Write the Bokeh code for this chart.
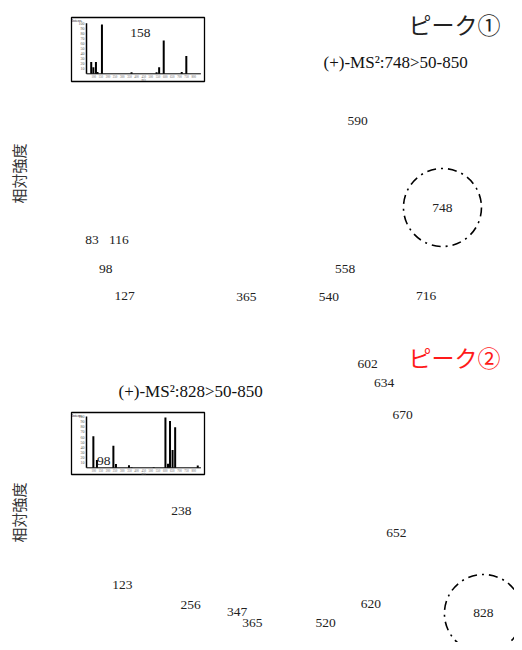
import math
from bokeh.plotting import figure
from bokeh.models import Range1d, ColumnDataSource
from bokeh.layouts import column
from bokeh.embed import file_html
from bokeh.resources import INLINE
from bokeh.core.properties import value

# ---------------- data ----------------
mz1 = [83, 98, 116, 127, 158, 365, 540, 558, 590, 716, 748]
int1 = [23.5, 13, 23.5, 3.5, 97.5, 3, 3, 13, 66, 3.5, 35]
precursor1 = 748
title1 = "ピーク①"
cond1 = "(+)-MS²:748>50-850"

mz2 = [98, 123, 238, 256, 347, 365, 520, 602, 620, 634, 652, 670, 828]
int2 = [61.5, 15, 43, 7.5, 5, 1, 1, 98, 8, 91, 34.5, 79, 4.5]
precursor2 = 828
title2 = "ピーク②"
cond2 = "(+)-MS²:828>50-850"

ylabel = "相対強度"
mz_lo, mz_hi = 50, 850
inset_yticks = [10, 20, 30, 40, 50, 60, 70, 80, 90, 100]
inset_xticks = [100, 150, 200, 250, 300, 350, 400, 450, 500, 550, 600, 650, 700, 750, 800]

# label nudges (screen px) to avoid overlaps, as in the original
nudge1 = {83: -10, 98: -4, 540: -7, 590: -4}
nudge2 = {98: -6, 365: 6, 620: -6, 652: 3}

# ---------------- layout ----------------
W = 514
SERIF = value("Liberation Serif")
CJK = value("Noto Sans CJK JP")


def xr(p0, slope, size):
    return Range1d(-p0 / slope, (size - p0) / slope)


def yr(p0, k, size):
    return Range1d((p0 - size) / k, p0 / k)


def panel(H, mz, inten, nudge, prec, title, title_color, title_py, cond, cond_px, cond_py,
          y0, k, iy0, ik, box_top, box_bot, ylab_py):
    mx0, mk = 59.0, 0.512          # main x mapping: px = mx0 + mk*mz
    ix0, ik_x = 78.85, 0.143       # inset x mapping
    p = figure(width=W, height=H, output_backend="svg", toolbar_location=None,
               x_axis_location=None, y_axis_location=None, min_border=0,
               x_range=xr(mx0, mk, W), y_range=yr(y0, k, H))
    p.outline_line_color = None
    p.grid.visible = False
    p.extra_x_ranges = {"ins": xr(ix0, ik_x, W)}
    p.extra_y_ranges = {"ins": yr(iy0, ik, H)}

    def px2x(px):
        return (px - mx0) / mk

    def py2y(py):
        return (y0 - py) / k

    def ipx2x(px):
        return (px - ix0) / ik_x

    def ipy2y(py):
        return (iy0 - py) / ik

    src = ColumnDataSource(dict(x=mz, y=inten, t=[str(m) for m in mz],
                                dx=[nudge.get(m, 0) for m in mz]))

    # inset box
    p.quad(left=[ipx2x(71)], right=[ipx2x(204)], bottom=[ipy2y(box_bot)], top=[ipy2y(box_top)],
           fill_color="white", line_color="black", line_width=1.3,
           x_range_name="ins", y_range_name="ins")
    # inset axes
    p.segment(x0=[mz_lo], y0=[0], x1=[mz_lo], y1=[100], line_color="black", line_width=1.5,
              x_range_name="ins", y_range_name="ins")
    p.segment(x0=[mz_lo], y0=[0], x1=[mz_hi], y1=[0], line_color="black", line_width=1,
              x_range_name="ins", y_range_name="ins")
    p.text(x=[mz_lo] * len(inset_yticks), y=inset_yticks, text=[str(v) for v in inset_yticks],
           x_offset=-2, text_align="right", text_baseline="middle", text_font_size="4px",
           text_color="#555", text_font=SERIF, x_range_name="ins", y_range_name="ins")
    p.text(x=[mz_lo], y=[ipy2y(box_top + 3)], text=["Intens."], x_offset=-4,
           text_align="right", text_baseline="middle", text_font_size="4px",
           text_color="#222", text_font=SERIF, x_range_name="ins", y_range_name="ins")
    p.text(x=inset_xticks, y=[0] * len(inset_xticks), text=[str(v) for v in inset_xticks],
           y_offset=1, text_align="center", text_baseline="top", text_font_size="3px",
           text_color="#666", text_font=SERIF, x_range_name="ins", y_range_name="ins")
    p.text(x=[450], y=[0], text=["m/z"], y_offset=4, text_align="center", text_baseline="top",
           text_font_size="3px", text_color="#666", text_font=SERIF,
           x_range_name="ins", y_range_name="ins")
    # inset bars
    p.segment(x0="x", y0=0, x1="x", y1="y", source=src, line_color="black", line_width=2,
              x_range_name="ins", y_range_name="ins")

    # peak labels
    p.text(x="x", y="y", text="t", source=src, x_offset="dx", text_align="center",
           text_baseline="middle", text_font_size="13.5px", text_color="#222", text_font=SERIF)

    # precursor circle
    pi = inten[mz.index(prec)]
    p.scatter(x=[prec], y=[pi], size=78, marker="circle", fill_color=None, line_color="black",
              line_width=1.6, line_dash="9 5 2 5")

    # title, condition, y label
    p.text(x=[px2x(500)], y=[py2y(title_py)], text=[title], text_align="right",
           text_baseline="middle", text_font_size="23px", text_color=title_color, text_font=CJK)
    p.text(x=[px2x(cond_px)], y=[py2y(cond_py)], text=[cond], text_align="left",
           text_baseline="middle", text_font_size="17px", text_color="#111", text_font=SERIF)
    p.text(x=[px2x(17.5)], y=[py2y(ylab_py)], text=[ylabel], angle=math.pi / 2,
           text_align="center", text_baseline="middle", text_font_size="15px",
           text_color="#333", text_font=CJK)
    return p


p1 = panel(335, mz1, int1, nudge1, precursor1, title1, "#222", 23, cond1, 323, 62,
           305, 2.8, 73.3, 0.506, 17, 81, 173)
p2 = panel(307, mz2, int2, nudge2, precursor2, title2, "#ff1a1a", 21.5, cond2, 118, 56,
           290, 2.67, 132.3, 0.513, 77, 139, 177)

layout = column(p1, p2, spacing=0)
open("out.html", "w").write(file_html(layout, INLINE))
